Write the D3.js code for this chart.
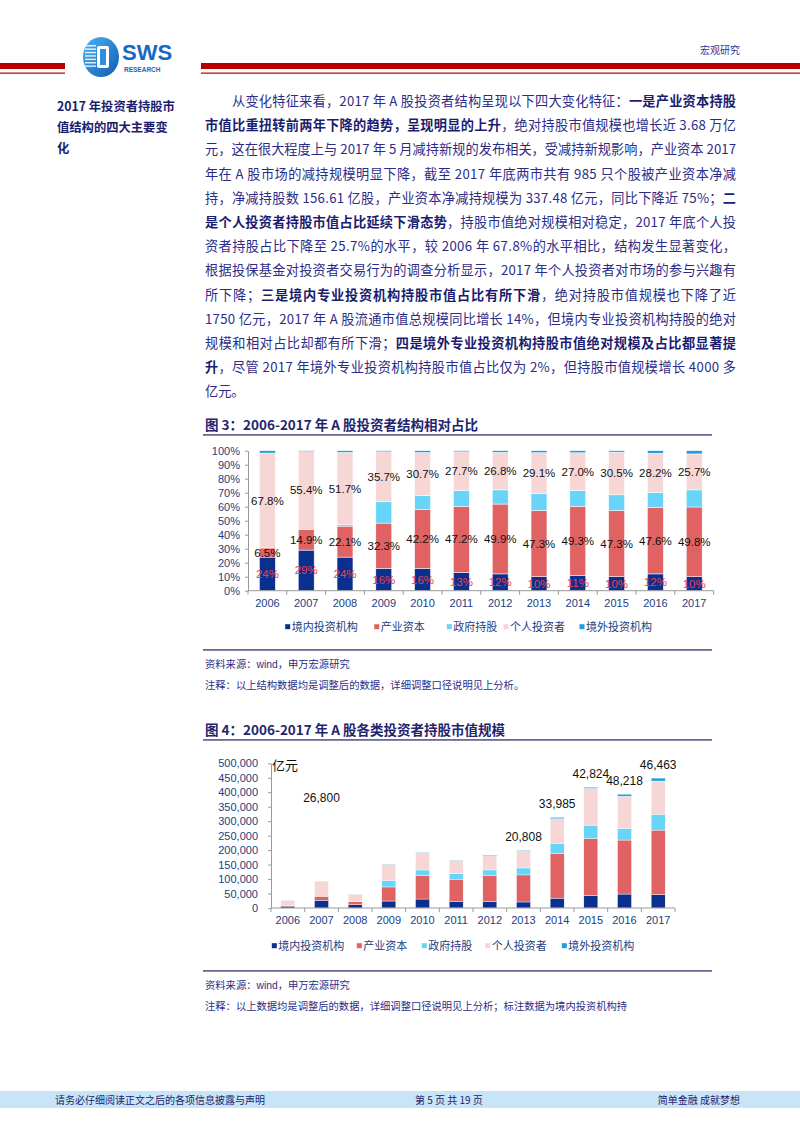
<!DOCTYPE html>
<html><head><meta charset="utf-8">
<script src="https://cdn.jsdelivr.net/npm/d3@7/dist/d3.min.js"></script>
<style>body{margin:0;background:#fff}svg{display:block}</style>
</head><body><svg id="page" width="800" height="1132"></svg>
<script>
// ---------------- DATA ----------------
const years = ["2006","2007","2008","2009","2010","2011","2012","2013","2014","2015","2016","2017"];
const seriesNames = ["境内投资机构","产业资本","政府持股","个人投资者","境外投资机构"];
// Figure 3: share (%)
const pctDomestic   = [24, 29, 24, 16, 16, 13, 12, 10, 11, 10, 12, 10];
const pctIndustry   = [6.5, 14.9, 22.1, 32.3, 42.2, 47.2, 49.9, 47.3, 49.3, 47.3, 47.6, 49.8];
const pctGov        = [0, 0, 1.0, 15.2, 9.8, 11.3, 10.1, 12.2, 11.2, 11.2, 10.4, 12.2];
const pctIndividual = [67.8, 55.4, 51.7, 35.7, 30.7, 27.7, 26.8, 29.1, 27.0, 30.5, 28.2, 25.7];
const pctForeign    = [1.7, 0.7, 1.2, 0.8, 1.3, 0.8, 1.2, 1.4, 1.5, 1.0, 1.8, 2.3];
const pctTicks = [0,0.1,0.2,0.3,0.4,0.5,0.6,0.7,0.8,0.9,1.0];
// Figure 4: market value (亿元)
const valDomestic   = [6500, 26800, 11300, 24100, 31000, 21500, 21900, 20808, 33985, 42824, 48218, 46463];
const valIndustry   = [1750, 13900, 10400, 48600, 81500, 78100, 91200, 93500, 154700, 196800, 186600, 222700];
const valGov        = [0, 0, 500, 22900, 18900, 18700, 18500, 24100, 35100, 46600, 40800, 54500];
const valIndividual = [18300, 51600, 24400, 53800, 59300, 45800, 49000, 57500, 84700, 126900, 110500, 114900];
const valForeign    = [460, 650, 560, 1200, 2500, 1300, 2200, 2800, 4700, 4200, 7100, 10300];
const valLabelYears = ["2007","2013","2014","2015","2016","2017"];
const valTicks = [0,50000,100000,150000,200000,250000,300000,350000,400000,450000,500000];

// ---------------- STYLE ----------------
const colors = ["#0b2f8e","#e06262","#67d4f8","#f7d6d6","#1ca0dc"];
const AXISBLUE = "#22407f";
const CJK = "'Noto Sans CJK SC','Noto Sans',sans-serif";
const LAT = "'Liberation Sans',Arial,sans-serif";

const svg = d3.select("#page");

// ---------------- HEADER ----------------
const hdr = svg.append("g");
hdr.append("rect").attr("x",0).attr("y",63).attr("width",65).attr("height",6).attr("fill","#b80000");
hdr.append("rect").attr("x",0).attr("y",72.5).attr("width",65).attr("height",1.3).attr("fill","#c01010");
hdr.append("rect").attr("x",201).attr("y",63).attr("width",599).attr("height",6).attr("fill","#b80000");
hdr.append("rect").attr("x",201).attr("y",72.5).attr("width",599).attr("height",1.3).attr("fill","#c01010");
const defs = svg.append("defs");
const lg = defs.append("linearGradient").attr("id","logoG").attr("x1","0").attr("x2","1").attr("y1","0").attr("y2","1");
lg.append("stop").attr("offset","0").attr("stop-color","#4fb3ef");
lg.append("stop").attr("offset","1").attr("stop-color","#0d5bb5");
hdr.append("ellipse").attr("cx",101).attr("cy",57).attr("rx",18).attr("ry",20).attr("fill","url(#logoG)");
hdr.append("rect").attr("x",97).attr("y",46).attr("width",12).attr("height",22).attr("rx",2).attr("fill","#fff");
hdr.append("rect").attr("x",100).attr("y",49).attr("width",6).attr("height",16).attr("fill","#2d8fdc");
for(let i=0;i<7;i++){
  hdr.append("rect").attr("x",85).attr("y",45+i*3.4).attr("width",11).attr("height",1.5).attr("fill","#fff").attr("opacity",0.85);
}
hdr.append("text").attr("x",122).attr("y",60).attr("font-family",LAT).attr("font-weight","bold").attr("font-size",22).attr("fill","#1668c4").text("SWS");
hdr.append("text").attr("x",124).attr("y",72).attr("font-family",LAT).attr("font-weight","bold").attr("font-size",6.5).attr("fill","#1668c4").text("RESEARCH");
hdr.append("text").attr("x",740).attr("y",54).attr("text-anchor","end").attr("font-family",CJK).attr("font-size",10).attr("fill","#333399").text("宏观研究");

// ---------------- SIDEBAR + BODY ----------------
const side = ["2017 年投资者持股市","值结构的四大主要变","化"];
side.forEach((t,i)=>{
  svg.append("text").attr("x",57).attr("y",111+i*21).attr("font-family",CJK).attr("font-weight","bold")
    .attr("font-size",12.3).attr("fill","#1c1c6e").text(t);
});
const body = [
  [["从变化特征来看，2017 年 A 股投资者结构呈现以下四大变化特征：",0],["一是产业资本持股",1]],
  [["市值比重扭转前两年下降的趋势，呈现明显的上升",1],["，绝对持股市值规模也增长近 3.68 万亿",0]],
  [["元，这在很大程度上与 2017 年 5 月减持新规的发布相关，受减持新规影响，产业资本 2017",0]],
  [["年在 A 股市场的减持规模明显下降，截至 2017 年底两市共有 985 只个股被产业资本净减",0]],
  [["持，净减持股数 156.61 亿股，产业资本净减持规模为 337.48 亿元，同比下降近 75%；",0],["二",1]],
  [["是个人投资者持股市值占比延续下滑态势",1],["，持股市值绝对规模相对稳定，2017 年底个人投",0]],
  [["资者持股占比下降至 25.7%的水平，较 2006 年 67.8%的水平相比，结构发生显著变化，",0]],
  [["根据投保基金对投资者交易行为的调查分析显示，2017 年个人投资者对市场的参与兴趣有",0]],
  [["所下降；",0],["三是境内专业投资机构持股市值占比有所下滑",1],["，绝对持股市值规模也下降了近",0]],
  [["1750 亿元，2017 年 A 股流通市值总规模同比增长 14%，但境内专业投资机构持股的绝对",0]],
  [["规模和相对占比却都有所下滑；",0],["四是境外专业投资机构持股市值绝对规模及占比都显著提",1]],
  [["升",1],["，尽管 2017 年境外专业投资机构持股市值占比仅为 2%，但持股市值规模增长 4000 多",0]],
  [["亿元。",0]]
];
body.forEach((segs,i)=>{
  const x0 = i===0 ? 232 : 205;
  const t = svg.append("text").attr("x",x0).attr("y",106+i*24.2).attr("font-family",CJK)
    .attr("font-size",13.2).attr("fill","#2c2c88");
  if(i < body.length-1){ t.attr("textLength",736-x0).attr("lengthAdjust","spacing"); }
  segs.forEach(s=>{
    t.append("tspan").attr("font-weight",s[1]?"bold":"normal").attr("fill",s[1]?"#1c1c6e":"#2c2c88").text(s[0]);
  });
});

// ---------------- helpers ----------------
function figTitle(y, text){
  svg.append("text").attr("x",205).attr("y",y+5).attr("font-family",CJK).attr("font-weight","bold")
    .attr("font-size",13.5).attr("fill","#24246e").text(text);
  svg.append("rect").attr("x",203).attr("y",y+9).attr("width",509).attr("height",1.8).attr("fill","#6a6a96");
}
function figFoot(y, note){
  svg.append("rect").attr("x",203).attr("y",y).attr("width",509).attr("height",1.8).attr("fill","#6a6a96");
  const s = svg.append("text").attr("x",205).attr("y",y+19).attr("font-family",CJK).attr("font-size",10.3).attr("fill","#2c2c88");
  s.append("tspan").text("资料来源：");
  s.append("tspan").attr("font-family",LAT).text("wind");
  s.append("tspan").text("，申万宏源研究");
  svg.append("text").attr("x",205).attr("y",y+40).attr("font-family",CJK).attr("font-size",10.3).attr("fill","#2c2c88").text(note);
}
function legend(yc, textXs){
  seriesNames.forEach((n,i)=>{
    svg.append("rect").attr("x",textXs[i]-6.5).attr("y",yc-2.5).attr("width",5).attr("height",5).attr("fill",colors[i]);
    svg.append("text").attr("x",textXs[i]).attr("y",yc+4).attr("font-family",CJK).attr("font-size",11)
      .attr("fill",AXISBLUE).text(n);
  });
}
function boundaryTicks(x, y0){
  const g = svg.append("g");
  const st = x.step(), r = x.range();
  for(let i=0;i<=years.length;i++){
    const xx = r[0] + i*st;
    g.append("line").attr("x1",xx).attr("x2",xx).attr("y1",y0).attr("y2",y0+4).attr("stroke","#999").attr("stroke-width",1);
  }
  g.append("line").attr("x1",r[0]).attr("x2",r[1]).attr("y1",y0).attr("y2",y0).attr("stroke","#999").attr("stroke-width",1);
}

// ---------------- FIGURE 3 ----------------
figTitle(425, "图 3：2006-2017 年 A 股投资者结构相对占比");
const rows1 = years.map((y,i)=>({year:y, s0:pctDomestic[i]/100, s1:pctIndustry[i]/100, s2:pctGov[i]/100, s3:pctIndividual[i]/100, s4:pctForeign[i]/100}));
const keys = ["s0","s1","s2","s3","s4"];
const st1 = d3.stack().keys(keys)(rows1);
const x1 = d3.scaleBand().domain(years).range([248, 713.6]).paddingInner(0.59).paddingOuter(0.295);
const y1 = d3.scaleLinear().domain([0,1]).range([590.7, 450.7]);
svg.append("g").selectAll("g").data(st1).join("g").attr("fill",(d,i)=>colors[i])
  .selectAll("rect").data(d=>d).join("rect")
  .attr("x",d=>x1(d.data.year)).attr("width",x1.bandwidth())
  .attr("y",d=>y1(d[1])).attr("height",d=>Math.max(0,y1(d[0])-y1(d[1])))
  .attr("stroke","#fff").attr("stroke-width",0.5);
const ax1 = svg.append("g").attr("transform","translate(248,0)")
  .call(d3.axisLeft(y1).tickValues(pctTicks).tickFormat(d3.format(".0%")).tickSize(3).tickPadding(5).tickSizeOuter(0));
ax1.select(".domain").attr("stroke","#999");
ax1.selectAll(".tick line").attr("stroke","#999");
ax1.selectAll("text").attr("font-family",LAT).attr("font-size",11).attr("fill",AXISBLUE);
boundaryTicks(x1, 590.7);
svg.append("g").selectAll("text").data(years).join("text")
  .attr("x",d=>x1(d)+x1.bandwidth()/2).attr("y",607).attr("text-anchor","middle")
  .attr("font-family",LAT).attr("font-size",11).attr("fill",AXISBLUE).text(d=>d);
const lab1 = svg.append("g").attr("font-family",LAT).attr("font-size",11.5).attr("text-anchor","middle");
[[0,"#e8404a"],[1,"#111"],[3,"#111"]].forEach(([k,col])=>{
  lab1.selectAll(null).data(st1[k]).join("text")
    .attr("x",d=>x1(d.data.year)+x1.bandwidth()/2)
    .attr("y",d=>y1((d[0]+d[1])/2)+4)
    .attr("fill",col)
    .text(d=> k===0 ? Math.round((d[1]-d[0])*100)+"%" : ((d[1]-d[0])*100).toFixed(1)+"%");
});
legend(626.7, [291.7, 380.7, 453.3, 510, 586]);
figFoot(649, "注释：以上结构数据均是调整后的数据，详细调整口径说明见上分析。");

// ---------------- FIGURE 4 ----------------
figTitle(730, "图 4：2006-2017 年 A 股各类投资者持股市值规模");
const rows2 = years.map((y,i)=>({year:y, s0:valDomestic[i], s1:valIndustry[i], s2:valGov[i], s3:valIndividual[i], s4:valForeign[i]}));
const st2 = d3.stack().keys(keys)(rows2);
const x2 = d3.scaleBand().domain(years).range([271, 675]).paddingInner(0.584).paddingOuter(0.292);
const y2 = d3.scaleLinear().domain([0,500000]).range([908, 763.3]);
svg.append("g").selectAll("g").data(st2).join("g").attr("fill",(d,i)=>colors[i])
  .selectAll("rect").data(d=>d).join("rect")
  .attr("x",d=>x2(d.data.year)).attr("width",x2.bandwidth())
  .attr("y",d=>y2(d[1])).attr("height",d=>Math.max(0,y2(d[0])-y2(d[1])))
  .attr("stroke","#fff").attr("stroke-width",0.4);
const ax2 = svg.append("g").attr("transform","translate(271,0)")
  .call(d3.axisLeft(y2).tickValues(valTicks).tickFormat(d3.format(",")).tickSize(3).tickPadding(10).tickSizeOuter(0));
ax2.select(".domain").attr("stroke","#999");
ax2.selectAll(".tick line").attr("stroke","#999");
ax2.selectAll("text").attr("font-family",LAT).attr("font-size",11).attr("fill",AXISBLUE);
boundaryTicks(x2, 908);
svg.append("g").selectAll("text").data(years).join("text")
  .attr("x",d=>x2(d)+x2.bandwidth()/2).attr("y",924).attr("text-anchor","middle")
  .attr("font-family",LAT).attr("font-size",11).attr("fill",AXISBLUE).text(d=>d);
svg.append("text").attr("x",272).attr("y",770).attr("font-family",CJK).attr("font-size",13).attr("fill","#111").text("亿元");
const liftExtra = {"2007":70};
const totals = st2[4];
svg.append("g").selectAll("text").data(totals.filter(d=>valLabelYears.includes(d.data.year))).join("text")
  .attr("x",d=>x2(d.data.year)+x2.bandwidth()/2)
  .attr("y",d=>y2(d[1]) - 9 - (liftExtra[d.data.year]||0))
  .attr("text-anchor","middle").attr("font-family",LAT).attr("font-size",12).attr("fill","#111")
  .text(d=>d3.format(",")(d.data.s0));
legend(945.7, [278.3, 363.3, 428.3, 491.7, 568.3]);
figFoot(970, "注释：以上数据均是调整后的数据，详细调整口径说明见上分析；标注数据为境内投资机构持");

// ---------------- FOOTER ----------------
svg.append("rect").attr("x",0).attr("y",1091).attr("width",800).attr("height",17).attr("fill","#c7e5f7");
svg.append("text").attr("x",55).attr("y",1104).attr("font-family",CJK).attr("font-size",10).attr("fill","#1c1c6e").text("请务必仔细阅读正文之后的各项信息披露与声明");
svg.append("text").attr("x",415).attr("y",1104).attr("font-family",CJK).attr("font-size",10).attr("fill","#1c1c6e").text("第 5 页 共 19 页");
svg.append("text").attr("x",740).attr("y",1104).attr("text-anchor","end").attr("font-family",CJK).attr("font-size",10).attr("fill","#1c1c6e").text("简单金融 成就梦想");
</script>
</body></html>
